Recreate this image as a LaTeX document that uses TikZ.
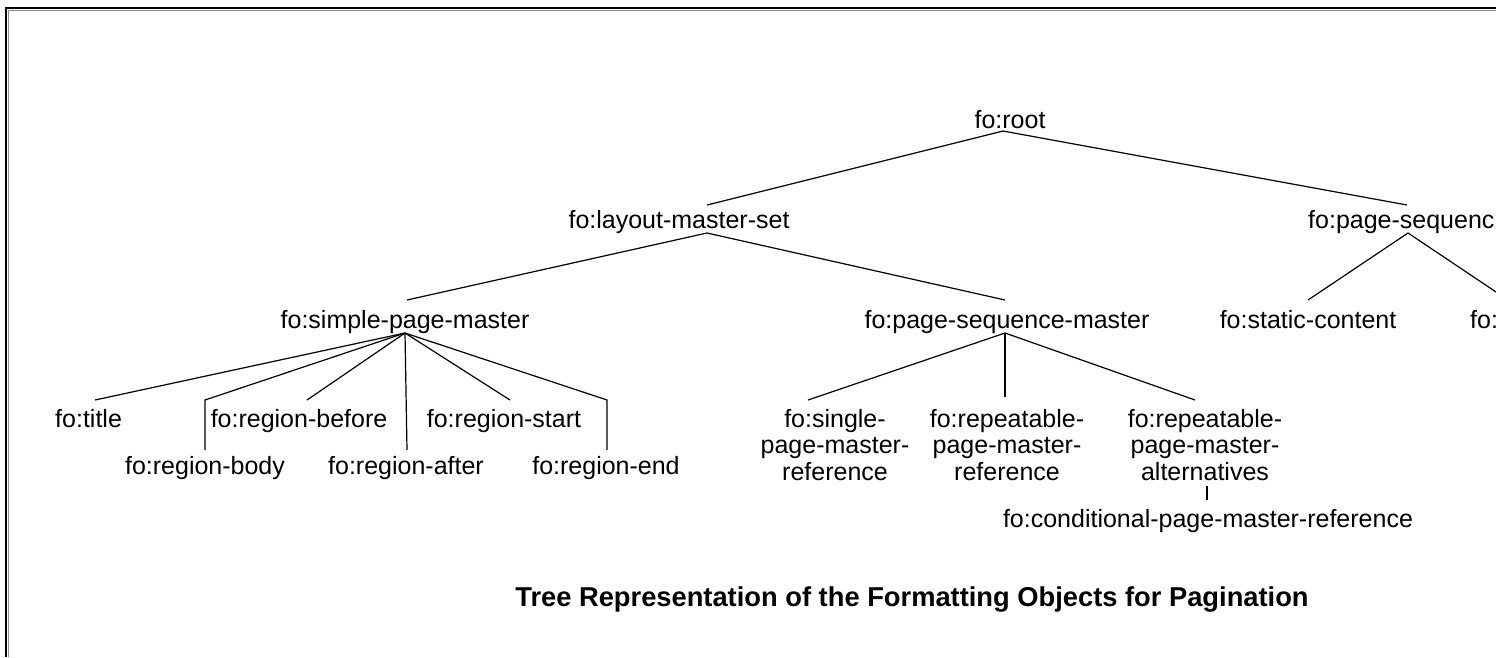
\documentclass[tikz,border=0pt]{standalone}
\usepackage{fontspec}
\setmainfont{Liberation Sans}
\begin{document}
\begin{tikzpicture}[x=1pt,y=-1pt,
  lbl/.style={font=\fontsize{25}{26.5}\selectfont, inner sep=0pt, anchor=base},
  ml/.style={font=\fontsize{25}{26.5}\selectfont, inner sep=0pt, anchor=north, align=center},
  edge/.style={line width=1.2pt, black, line join=miter},
  frameline/.style={line width=2.4pt, black},
  frameshade/.style={line width=1pt, black!45}]
\useasboundingbox (0,0) rectangle (1496,657);
\clip (0,0) rectangle (1496,657);
% frame
\draw[frameshade] (8.2,657) -- (8.2,10) -- (1496,10);
\draw[frameline] (6,657) -- (6,8) -- (1496,8);
% nodes
\node[lbl] (root) at (1010,128) {fo:root};
\node[lbl] (lms) at (679,228) {fo:layout-master-set};
\node[lbl,anchor=base west] (ps) at (1308,228) {fo:page-sequenc};
\node[lbl] (spm) at (405,328) {fo:simple-page-master};
\node[lbl] (psm) at (1007,328) {fo:page-sequence-master};
\node[lbl] (sc) at (1308,328) {fo:static-content};
\node[lbl,anchor=base west] (fl) at (1470,328) {fo:};
\node[lbl,anchor=base west] (ttl) at (55,427) {fo:title};
\node[lbl] (rbef) at (299,427) {fo:region-before};
\node[lbl] (rsta) at (504,427) {fo:region-start};
\node[ml] (spmr) at (835,409) {fo:single-\\page-master-\\reference};
\node[ml] (rpmr) at (1007,409) {fo:repeatable-\\page-master-\\reference};
\node[ml] (rpma) at (1205,409) {fo:repeatable-\\page-master-\\alternatives};
\node[lbl] (rbod) at (205,474) {fo:region-body};
\node[lbl] (raft) at (406,474) {fo:region-after};
\node[lbl] (rend) at (606,474) {fo:region-end};
\node[lbl] (cpmr) at (1208,527) {fo:conditional-page-master-reference};
\node[font=\bfseries\fontsize{27.3}{30}\selectfont, inner sep=0pt, anchor=base] (cap) at (912,606) {Tree Representation of the Formatting Objects for Pagination};
% connectors
\draw[edge] ([shift={(28,-23)}]lms.base) -- ([shift={(-7,3)}]root.base) -- ([shift={(99,-23)}]ps.base west);
\draw[edge] ([shift={(2,-28)}]spm.base) -- ([shift={(28,5)}]lms.base) -- ([shift={(-2,-28)}]psm.base);
\draw[edge] ([shift={(0,-28)}]sc.base) -- ([shift={(100,5)}]ps.base west) -- ([shift={(38,-28)}]fl.base west);
\draw[edge] ([shift={(0,5)}]spm.base) -- ([shift={(40,-27)}]ttl.base west);
\draw[edge] ([shift={(0,5)}]spm.base) -- ([shift={(0,-74)}]rbod.base) -- ([shift={(0,-24)}]rbod.base);
\draw[edge] ([shift={(0,5)}]spm.base) -- ([shift={(8,-27)}]rbef.base);
\draw[edge] ([shift={(0,5)}]spm.base) -- ([shift={(1,-24)}]raft.base);
\draw[edge] ([shift={(0,5)}]spm.base) -- ([shift={(6,-27)}]rsta.base);
\draw[edge] ([shift={(0,5)}]spm.base) -- ([shift={(1,-74)}]rend.base) -- ([shift={(1,-24)}]rend.base);
\draw[edge] ([shift={(-2,5)}]psm.base) -- ([shift={(-27,-9)}]spmr.north);
\draw[edge] ([shift={(-2,5)}]psm.base) -- ([shift={(-2,-12)}]rpmr.north);
\draw[edge] ([shift={(-2,5)}]psm.base) -- ([shift={(-10,-9)}]rpma.north);
\draw[edge] ([shift={(2,5)}]rpma.south) -- ([shift={(-1,-27)}]cpmr.base);
\end{tikzpicture}
\end{document}
